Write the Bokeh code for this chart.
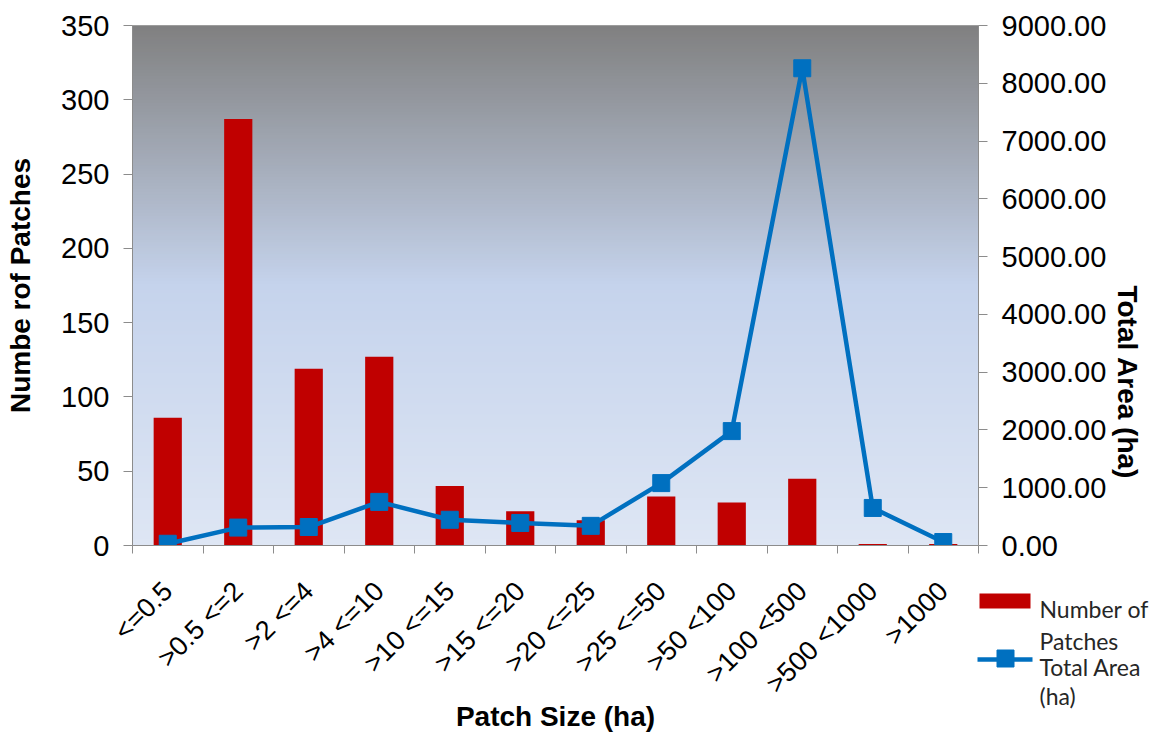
import math
import numpy as np
from bokeh.plotting import figure
from bokeh.models import (Range1d, LinearAxis, FixedTicker, NumeralTickFormatter, GridBox)
from bokeh.core.properties import value
from bokeh.embed import file_html
from bokeh.resources import INLINE

# Patch size classes and their statistics
categories = ["<=0.5", ">0.5 <=2", ">2 <=4", ">4 <=10", ">10 <=15", ">15 <=20",
              ">20 <=25", ">25 <=50", ">50 <100", ">100 <500", ">500 <1000", ">1000"]
num_patches = [86, 287, 119, 127, 40, 23, 17, 33, 29, 45, 1, 1]
total_area = [30, 310, 320, 755, 445, 390, 340, 1080, 1980, 8260, 650, 60]

left_ticks = [0, 50, 100, 150, 200, 250, 300, 350]
right_ticks = [0, 1000, 2000, 3000, 4000, 5000, 6000, 7000, 8000, 9000]

series_names = [["Number of", "Patches"], ["Total Area", "(ha)"]]

BAR_COLOR = "#c00000"
LINE_COLOR = "#0070c0"
W, H = 1162, 736

n = len(categories)
xc = [i + 0.5 for i in range(n)]
bounds = list(range(n + 1))

p = figure(width=W, height=H, output_backend="svg", toolbar_location=None,
           x_range=Range1d(0, n), y_range=Range1d(0, 350),
           min_border_left=132, min_border_right=184,
           min_border_top=25, min_border_bottom=191,
           background_fill_color="white", border_fill_color="white")
p.extra_y_ranges = {"area": Range1d(0, 9000)}
p.xgrid.visible = False
p.ygrid.visible = False
p.outline_line_color = "#a6a6a6"

# vertical gradient behind the plot: grey at the top fading to pale blue
stops = [(0.0, (128, 128, 128)), (0.5, (197, 211, 236)), (1.0, (222, 230, 244))]
def grad(t):
    for (t0, c0), (t1, c1) in zip(stops[:-1], stops[1:]):
        if t0 <= t <= t1:
            f = (t - t0) / (t1 - t0)
            return "#%02x%02x%02x" % tuple(int(round(a + (b - a) * f)) for a, b in zip(c0, c1))
    return "#%02x%02x%02x" % stops[-1][1]

nstrips = 175
edges = np.linspace(0, 350, nstrips + 1)
cols = [grad(1 - (edges[i] + edges[i + 1]) / 2 / 350) for i in range(nstrips)]
p.quad(left=0, right=n, bottom=edges[:-1], top=np.minimum(edges[1:] + 1.2, 350),
       fill_color=cols, line_color=None)

p.vbar(x=xc, top=num_patches, width=0.4, fill_color=BAR_COLOR, line_color=None)
p.line(x=xc, y=total_area, y_range_name="area", line_color=LINE_COLOR, line_width=4.5)
p.scatter(x=xc, y=total_area, y_range_name="area", marker="square", size=17,
          fill_color=LINE_COLOR, line_color=LINE_COLOR)

tick_font = "Liberation Sans"
axis_grey = "#8c8c8c"

# bottom axis: labels at class centres, tick marks at class boundaries
xa = p.xaxis[0]
xa.ticker = FixedTicker(ticks=xc, minor_ticks=bounds)
xa.major_label_overrides = {x: c for x, c in zip(xc, categories)}
xa.major_label_orientation = math.pi / 4
xa.major_tick_out = 0
xa.major_tick_in = 0
xa.minor_tick_out = 8
xa.minor_tick_in = 0
xa.minor_tick_line_color = axis_grey
xa.axis_line_color = axis_grey
xa.major_label_text_font = tick_font
xa.major_label_text_font_size = "27px"
xa.major_label_text_color = "black"
xa.major_label_standoff = 33
xa.axis_label = "Patch Size (ha)"
xa.axis_label_text_font = tick_font
xa.axis_label_text_font_style = "bold"
xa.axis_label_text_font_size = "28px"
xa.axis_label_text_color = "black"
xa.axis_label_standoff = -12

ya = p.yaxis[0]
ya.ticker = FixedTicker(ticks=left_ticks)
ya.major_tick_out = 9
ya.major_tick_in = 0
ya.minor_tick_out = 0
ya.minor_tick_in = 0
ya.major_tick_line_color = axis_grey
ya.axis_line_color = axis_grey
ya.major_label_text_font = tick_font
ya.major_label_text_font_size = "29px"
ya.major_label_text_color = "black"
ya.major_label_standoff = 14
ya.axis_label = "Numbe rof Patches"
ya.axis_label_text_font = tick_font
ya.axis_label_text_font_style = "bold"
ya.axis_label_text_font_size = "28px"
ya.axis_label_text_color = "black"
ya.axis_label_standoff = 22

ra = LinearAxis(y_range_name="area", ticker=FixedTicker(ticks=right_ticks),
                formatter=NumeralTickFormatter(format="0.00"))
ra.major_tick_out = 9
ra.major_tick_in = 0
ra.minor_tick_out = 0
ra.minor_tick_in = 0
ra.major_tick_line_color = axis_grey
ra.axis_line_color = axis_grey
ra.major_label_text_font = tick_font
ra.major_label_text_font_size = "29px"
ra.major_label_text_color = "black"
ra.major_label_standoff = 14
ra.axis_label = "Total Area (ha)"
ra.axis_label_text_font = tick_font
ra.axis_label_text_font_style = "bold"
ra.axis_label_text_font_size = "28px"
ra.axis_label_text_color = "black"
ra.axis_label_standoff = 18
ra.axis_label_orientation = -math.pi / 2
p.add_layout(ra, "right")

# legend sheet: a transparent overlay in pixel coordinates (y grows downward),
# so the key can sit in the margin under the secondary axis
lg = figure(width=W, height=H, output_backend="svg", toolbar_location=None,
            x_range=Range1d(0, W), y_range=Range1d(H, 0),
            x_axis_location=None, y_axis_location=None, min_border=0,
            background_fill_color=None, border_fill_color=None, outline_line_color=None)
lg.xgrid.visible = False
lg.ygrid.visible = False
for fig in (p, lg):
    if "frame_align" in fig.properties():
        fig.frame_align = False

lg.quad(left=[979], right=[1030], top=[593], bottom=[608],
        fill_color=BAR_COLOR, line_color=None)
lg.line(x=[977, 1032], y=[659, 659], line_color=LINE_COLOR, line_width=4.5)
lg.scatter(x=[1005], y=[658], marker="square", size=17,
           fill_color=LINE_COLOR, line_color=LINE_COLOR)
lg.text(x=[1039] * 4, y=[608, 640, 666, 695],
        text=series_names[0] + series_names[1],
        text_font=value("Lato"), text_font_size="23px", text_color="#262626",
        text_baseline="alphabetic", text_align="left")

layout = GridBox(children=[(p, 0, 0), (lg, 0, 0)])

open("out.html", "w").write(file_html(layout, INLINE))
